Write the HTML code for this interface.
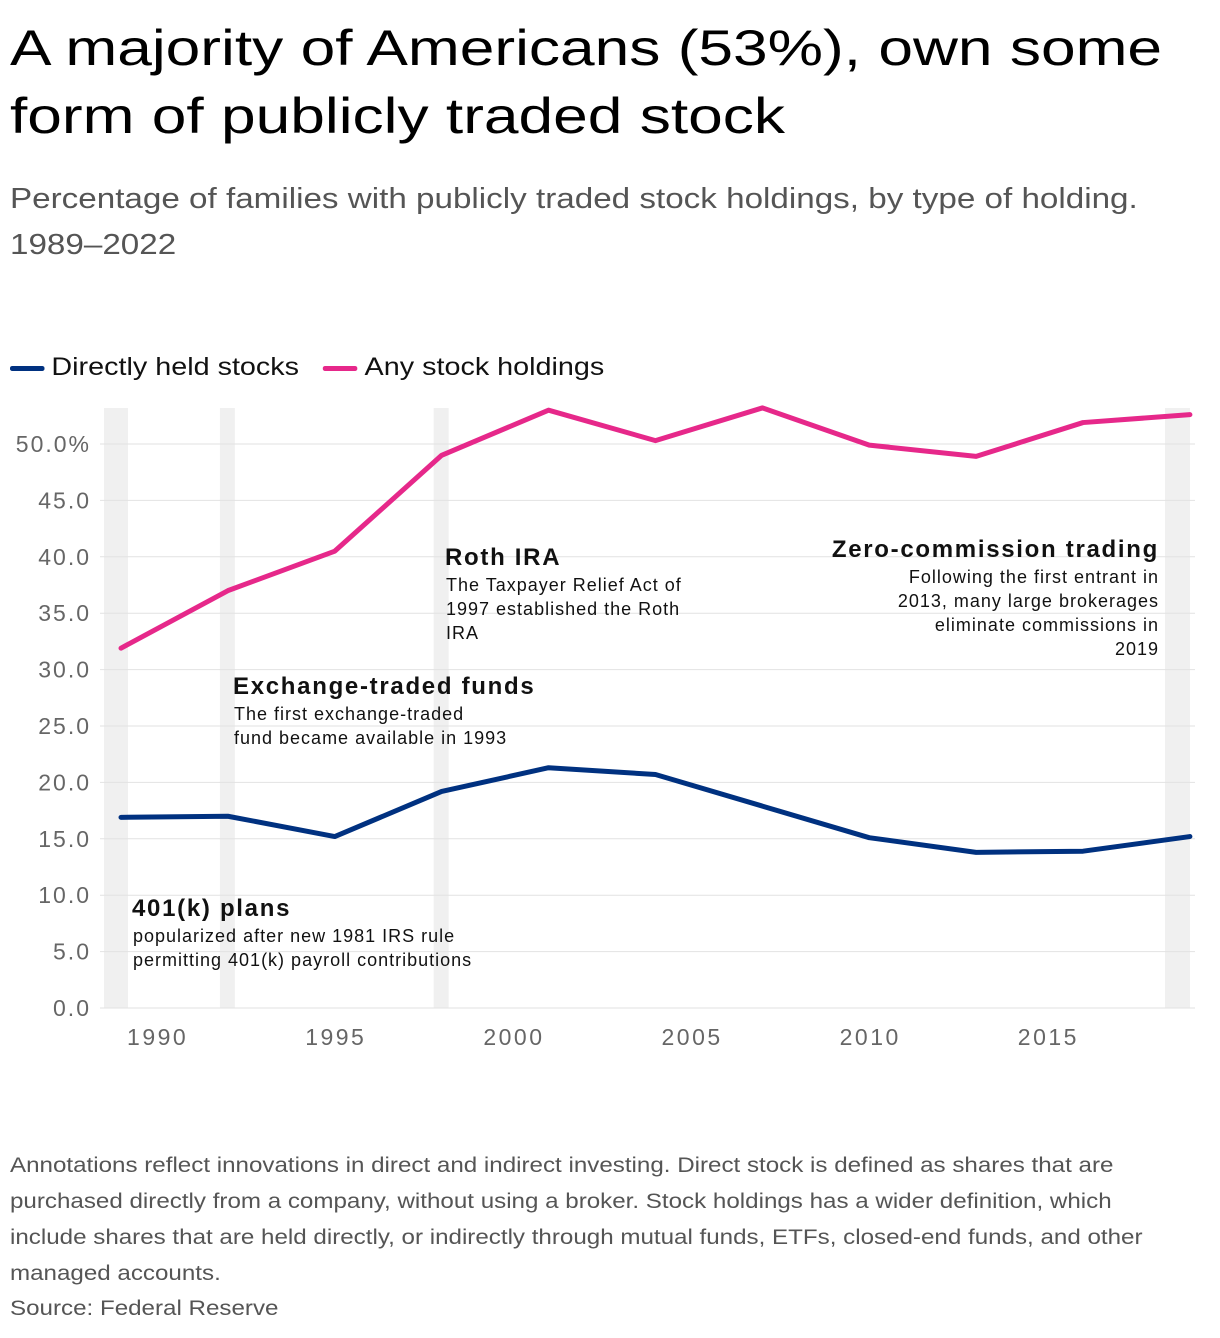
<!DOCTYPE html>
<html><head><meta charset="utf-8"><style>
body{margin:0;background:#fff;font-family:"Liberation Sans",sans-serif;width:1220px;height:1338px;overflow:hidden;position:relative}
.t{position:absolute;margin:0;transform-origin:0 0;white-space:nowrap}
</style></head><body>
<h1 class="t" style="left:10px;top:14px;font-size:50px;line-height:68px;font-weight:500;color:#000;transform:scaleX(1.245)">A majority of Americans (53%), own some<br>form of publicly traded stock</h1>
<div class="t" style="left:10px;top:176px;font-size:29px;line-height:46px;color:#555;transform:scaleX(1.145)">Percentage of families with publicly traded stock holdings, by type of holding.<br>1989–2022</div>
<div class="t" style="left:10px;top:350px;font-size:25px;line-height:34px;color:#111;transform:scaleX(1.15)">
<span><span style="display:inline-block;width:30px;height:5px;background:#003180;vertical-align:middle;margin-right:6px;border-radius:2px"></span>Directly held stocks</span>
<span style="margin-left:14px"><span style="display:inline-block;width:30px;height:5px;background:#e6288a;vertical-align:middle;margin-right:6px;border-radius:2px"></span>Any stock holdings</span>
</div>
<svg id="chart" width="1220" height="1100" style="position:absolute;left:0;top:0" font-family="Liberation Sans, sans-serif"></svg>
<div class="t" style="left:10px;top:1148px;font-size:21px;line-height:36px;color:#555;width:1030px;white-space:normal;transform:scaleX(1.15)">Annotations reflect innovations in direct and indirect investing. Direct stock is defined as shares that are purchased directly from a company, without using a broker. Stock holdings has a wider definition, which include shares that are held directly, or indirectly through mutual funds, ETFs, closed-end funds, and other managed accounts.</div>
<div class="t" style="left:10px;top:1294px;font-size:21px;line-height:30px;color:#555;transform:scaleX(1.15)">Source: Federal Reserve</div>
<script>
const years=[1989,1992,1995,1998,2001,2004,2007,2010,2013,2016,2019];
const anyStock=[31.9,37.0,40.5,49.0,53.0,50.3,53.2,49.9,48.9,51.9,52.6];
const direct=[16.9,17.0,15.2,19.2,21.3,20.7,17.9,15.1,13.8,13.9,15.2];
const yTicks=[0,5,10,15,20,25,30,35,40,45,50];
const yTickLabels=["0.0","5.0","10.0","15.0","20.0","25.0","30.0","35.0","40.0","45.0","50.0%"];
const xTicks=[1990,1995,2000,2005,2010,2015];
const bandYears=[1989,1992,1998,2019];
const ns="http://www.w3.org/2000/svg",svg=document.getElementById('chart');
const x=v=>121+(v-1989)*35.63, y=v=>1008-v*11.28;
function mk(t,a){const e=document.createElementNS(ns,t);for(const k in a)e.setAttribute(k,a[k]);svg.appendChild(e);return e;}
bandYears.forEach(b=>{const w=b===1989?24:(b===2019?25:15);
const r=mk('rect',{x:b===1989?104:(b===2019?1165:x(b)-8),y:408,width:w,height:600,fill:'#f0f0f0'});

});
yTicks.forEach((v,i)=>{const l=mk('line',{x1:100,x2:1195,y1:y(v),y2:y(v),stroke:'#e2e2e2','stroke-width':1});


const t=mk('text',{x:91,y:y(v)+8,'text-anchor':'end','font-size':23,'letter-spacing':2,fill:'#666'});t.textContent=yTickLabels[i];

});
xTicks.forEach(v=>{const t=mk('text',{x:x(v)+1,y:1045,'text-anchor':'middle','font-size':23,'letter-spacing':2.5,fill:'#666'});t.textContent=v;

});
function line(d,c,n){const p=mk('polyline',{points:d.map((v,i)=>x(years[i])+','+y(v)).join(' '),fill:'none',stroke:c,'stroke-width':5,'stroke-linejoin':'round','stroke-linecap':'round'});

}
line(anyStock,'#e6288a','line-any-stock');
line(direct,'#003180','line-direct-stock');
function ann(xx,yy,title,lines,anchor,n){const g=document.createElementNS(ns,'g');svg.appendChild(g);


const t=document.createElementNS(ns,'text');t.setAttribute('x',xx);t.setAttribute('y',yy);t.setAttribute('font-size',24);t.setAttribute('font-weight','bold');t.setAttribute('letter-spacing',1.7);t.setAttribute('fill','#111');t.setAttribute('text-anchor',anchor);t.textContent=title;g.appendChild(t);
lines.forEach((s,i)=>{const u=document.createElementNS(ns,'text');u.setAttribute('x',xx+(anchor==='start'?1:0));u.setAttribute('y',yy+26+i*24);u.setAttribute('font-size',18);u.setAttribute('letter-spacing',1);u.setAttribute('fill','#111');u.setAttribute('text-anchor',anchor);u.textContent=s;g.appendChild(u);});}
ann(445,565,'Roth IRA',['The Taxpayer Relief Act of','1997 established the Roth','IRA'],'start','annotation-roth-ira');
ann(1159,557,'Zero-commission trading',['Following the first entrant in','2013, many large brokerages','eliminate commissions in','2019'],'end','annotation-zero-commission');
ann(233,694,'Exchange-traded funds',['The first exchange-traded','fund became available in 1993'],'start','annotation-etf');
ann(132,916,'401(k) plans',['popularized after new 1981 IRS rule','permitting 401(k) payroll contributions'],'start','annotation-401k');
</script>
</body></html>
